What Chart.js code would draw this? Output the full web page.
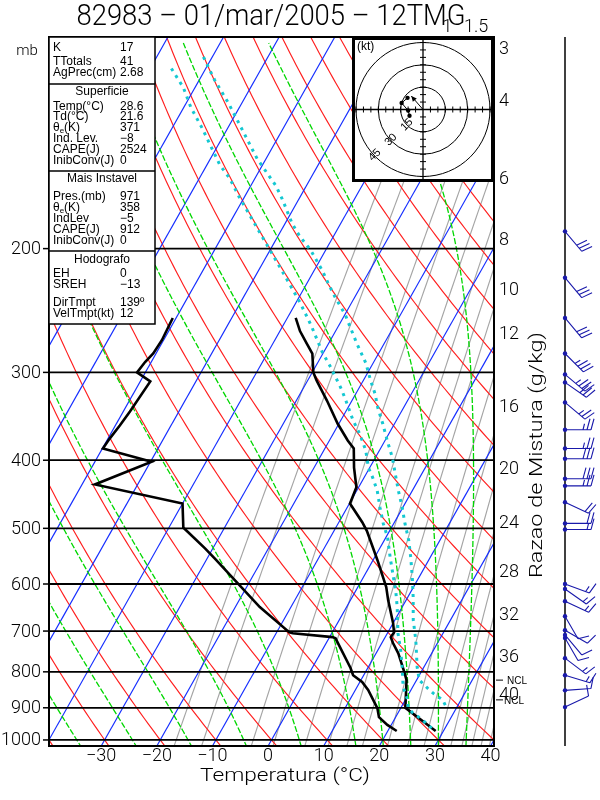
<!DOCTYPE html>
<html><head><meta charset="utf-8">
<script src="https://cdn.jsdelivr.net/npm/chart.js@4"></script>
<style>html,body{margin:0;padding:0;background:#fff}#wrap{position:relative;width:600px;height:800px}#h{position:absolute;left:352px;top:37px}</style>
</head><body><div id="wrap"><canvas id="c" width="600" height="800"></canvas><canvas id="h" width="142" height="145"></canvas></div>
<script>
// ---------------- data ----------------
const titleText = '82983 \u2013 01/mar/2005 \u2013 12TMG';
const tempPres = [971,900,822,801,753,728,714,703,682,633,606,555,504,490,461,437,410,385,375,355,329,308,300,282,273,262,251];
const tempVals = [28.6,20.8,18.2,17.0,14.0,12.0,11.0,11.1,10.0,6.8,5.1,0.8,-4.1,-5.8,-9.9,-10.4,-12.8,-14.8,-16.7,-20.2,-24.5,-28.4,-29.8,-31.9,-33.9,-36.4,-38.5];
const dewPres = [971,952,928,901,849,827,809,790,717,714,705,703,647,552,534,504,499,461,433,402,385,373,357,341,309,300,290,282,270,251];
const dewVals = [21.6,19.3,17.0,15.8,12.3,10.4,8.1,6.9,1.2,0.5,-7.0,-7.7,-15.6,-28.6,-31.4,-36.5,-37.4,-40.0,-57.7,-49.8,-59.9,-59.7,-59.2,-58.8,-58.2,-61.5,-61.1,-60.5,-60.3,-60.6];
const parcel1Pres = [962,952,937,916,898,877,841,788,745,705,647,612,587,550,515,492,467,442,423,410,387,367,351,327,315,295,281,258,239,217,169,159,152,135,126,118,110];
const parcel1Vals = [27.6,26.6,25.2,22.7,21.2,20.4,18.3,16.1,14.1,11.9,9.1,7.1,5.4,2.8,0.3,-1.9,-4.1,-6.3,-8.5,-10.2,-12.5,-15.2,-17.8,-21.4,-23.4,-27.2,-30.2,-34.8,-39.2,-45.2,-60.9,-64.5,-67.7,-74.5,-78.7,-82.1,-86.7];
const parcel2Pres = [892,877,858,844,822,788,721,675,627,587,550,520,492,467,442,418,397,375,355,337,322,308,291,273,259,248,235,224,215,201,192,184,170,163,149,136,124,115,106];
const parcel2Vals = [27.7,26.7,24.3,22.8,20.5,18.8,15.8,13.3,11.0,8.8,6.5,4.4,2.0,-0.1,-2.5,-4.8,-6.9,-9.6,-12.1,-14.6,-16.5,-18.7,-21.3,-24.9,-27.7,-30.0,-33.4,-36.2,-38.5,-42.7,-46.1,-48.8,-53.0,-55.4,-61.6,-67.0,-72.5,-77.3,-82.0];
const nclPres = [822, 877];
const windPres = [898,850,809,765,716,709,698,667,635,610,600,502,492,459,435,425,398,385,362,331,310,302,282,251,220,189];
const windDir  = [65,86,107,127,150,140,120,150,115,125,110,90,90,115,90,90,90,90,90,130,125,130,135,140,140,140];
const windSpd  = [10,10,15,13,10,10,10,10,15,15,15,15,20,20,25,30,30,25,25,25,30,35,35,30,30,30];
const hodoMinPres = 760;
const stormDir = 139, stormSpd = 12;
const isobarLevels = [1000,900,800,700,600,500,400,300,200];
const tempTicks = [-30,-20,-10,0,10,20,30,40];
const isothermValues = [-110,-100,-90,-80,-70,-60,-50,-40,-30,-20,-10,0,10,20,30,40];
const dryAdiabatValues = [-40,-30,-20,-10,0,10,20,30,40,50,60,70,80,90,100,110,120,130,140,150,160,170,180,190,200];
const moistAdiabatValues = [-35,-25,-15,-5,5,15,20,25,30,35];
const mixRatioValues = [1,1.5,3,4,6,8,10,12,16,20,24,28,32,36,40,44,48];
const mixTopLabels = [1,1.5];
const mixSideLabels = ['3','4','6','8','10','12','16','20','24','28','32','36','40'];
const mixSidePres = [104,123,159,194,229,264,336,411,490,576,663,760,861];
const hodoRings = [15,30,45];
const tableTop = [['K','17'],['TTotals','41'],['AgPrec(cm)','2.68']];
const tableSurf = [['Temp(\u00b0C)','28.6'],['Td(\u00b0C)','21.6'],['THETAE','371'],['Ind. Lev.','\u22128'],['CAPE(J)','2524'],['InibConv(J)','0']];
const tableMU = [['Pres.(mb)','971'],['THETAE','358'],['IndLev','\u22125'],['CAPE(J)','912'],['InibConv(J)','0']];
const tableHodo = [['EH','0'],['SREH','\u221213'],['DirTmpt','139\u00ba'],['VelTmpt(kt)','12']];

// ---------------- helpers ----------------
const K_SKEW = 31.0, P_TOP = 100, P_BOT = 1020;
const LIGHT = '300 18px Roboto, "Liberation Sans"';
const skewX = (T,p) => T + K_SKEW*Math.log(1000/p);
const toPts = (pres, vals) => pres.map((p,i)=>({x:skewX(vals[i],p), y:p}));
const gridP = [];
for (let lp=Math.log(1050); lp>Math.log(P_TOP); lp-=0.02) gridP.push(Math.exp(lp));
gridP.push(P_TOP*0.98);
function es(Tc){ return 6.112*Math.exp(17.67*Tc/(Tc+243.5)); }
function moistLapse(T,p){
  const Rd=287.04, cp=1005.7, Lv=2.501e6, eps=0.622;
  const e=es(T-273.15), rs=eps*e/(p-e);
  return (Rd*T + Lv*rs)/(cp + Lv*Lv*rs*eps/(Rd*T*T))/p;
}
function rk(T,p,h){ const k1=moistLapse(T,p),k2=moistLapse(T+h/2*k1,p+h/2),k3=moistLapse(T+h/2*k2,p+h/2),k4=moistLapse(T+h*k3,p+h); return T+h/6*(k1+2*k2+2*k3+k4); }
function moistLine(tw){
  const pts=[], down=[];
  let T2=tw+273.15, p2=1000;
  while(p2<1050){ T2=rk(T2,p2,2); p2+=2; if(p2%10===0) down.push({x:skewX(T2-273.15,p2),y:p2}); }
  down.reverse().forEach(d=>pts.push(d));
  let T=tw+273.15, p=1000;
  pts.push({x:skewX(T-273.15,p),y:p});
  while(p>P_TOP-2){ T=rk(T,p,-2); p-=2; if(p%6===0) pts.push({x:skewX(T-273.15,p),y:p}); }
  return pts;
}
function tdFromW(w,p){ const e=(w/1000)*p/(0.622+w/1000); const l=Math.log(e/6.112); return 243.5*l/(17.67-l); }

const datasets=[];
const base = {showLine:true,pointRadius:0,borderWidth:1.15,fill:false,tension:0};
isothermValues.forEach(t=>datasets.push({...base,order:3,borderColor:'rgb(20,45,255)',data:[{x:skewX(t,1050),y:1050},{x:skewX(t,P_TOP*0.98),y:P_TOP*0.98}]}));
dryAdiabatValues.forEach(th=>datasets.push({...base,order:3,borderColor:'rgb(255,30,30)',data:gridP.map(p=>({x:skewX((th+273.15)*Math.pow(p/1000,0.2857)-273.15,p),y:p}))}));
mixRatioValues.forEach(w=>datasets.push({...base,order:3,borderColor:'rgb(165,165,165)',data:gridP.map(p=>({x:skewX(tdFromW(w,p),p),y:p}))}));
moistAdiabatValues.forEach(tw=>datasets.push({...base,order:2,borderWidth:1.3,borderColor:'rgb(0,215,0)',borderDash:[6,2],data:moistLine(tw)}));
isobarLevels.forEach(p=>datasets.push({...base,order:1,borderColor:'#000',borderWidth:1.8,data:[{x:-45,y:p},{x:45,y:p}]}));
datasets.push({...base,order:0,borderColor:'rgb(20,200,210)',borderWidth:3,borderDash:[3,5],data:toPts(parcel1Pres,parcel1Vals)});
datasets.push({...base,order:0,borderColor:'rgb(20,200,210)',borderWidth:3,borderDash:[3,5],data:toPts(parcel2Pres,parcel2Vals)});
datasets.push({...base,order:0,borderColor:'#000',borderWidth:2.6,data:toPts(dewPres,dewVals)});
datasets.push({...base,order:0,borderColor:'#000',borderWidth:2.6,data:toPts(tempPres,tempVals)});

function fitText(ctx,text,cx,cy,width,font){
  ctx.save(); ctx.font=font; const w=ctx.measureText(text).width; ctx.translate(cx,cy); ctx.scale(width/w,1);
  ctx.textAlign='center'; ctx.textBaseline='middle'; ctx.fillText(text,0,0); ctx.restore();
}
function drawBarb(ctx,x,y,dir,spd){
  const r=dir*Math.PI/180, sx=Math.sin(r), sy=-Math.cos(r), px=sy, py=-sx;
  const L=26, tx=x+sx*L, ty=y+sy*L;
  ctx.beginPath(); ctx.moveTo(x,y); ctx.lineTo(tx,ty);
  let s=Math.round(spd/5)*5, pos=0;
  while(s>=10){ const bx=tx-sx*pos, by=ty-sy*pos; ctx.moveTo(bx,by); ctx.lineTo(bx+px*11+sx*3,by+py*11+sy*3); pos+=4; s-=10; }
  if(s>=5){ if(pos===0) pos=4; const bx=tx-sx*pos, by=ty-sy*pos; ctx.moveTo(bx,by); ctx.lineTo(bx+px*6+sx*1.5,by+py*6+sy*1.5); }
  ctx.stroke();
  ctx.beginPath(); ctx.arc(x,y,2.2,0,Math.PI*2); ctx.fill();
}
function drawTheta(ctx,x,y){
  ctx.fillText('\u03b8',x,y); const w=ctx.measureText('\u03b8').width;
  const f=ctx.font; ctx.font='8px "Liberation Sans"'; ctx.fillText('e',x+w,y+3); const we=ctx.measureText('e').width; ctx.font=f;
  ctx.fillText('(K)',x+w+we,y);
}

const decor={id:'decor',
  beforeDraw(c){const ctx=c.ctx; ctx.save(); ctx.fillStyle='#fff'; ctx.fillRect(0,0,c.width,c.height); ctx.restore();},
  afterDraw(c){
    const ctx=c.ctx, xs=c.scales.x, ys=c.scales.y, a=c.chartArea;
    ctx.save();
    ctx.strokeStyle='#000'; ctx.fillStyle='#000';
    ctx.lineWidth=2; ctx.strokeRect(a.left,a.top,a.right-a.left,a.bottom-a.top);
    // title
    fitText(ctx,titleText,271,17,389,'300 30px Roboto, "Liberation Sans"');
    ctx.font='300 15px Roboto, "Liberation Sans"'; ctx.textAlign='center'; ctx.textBaseline='middle'; ctx.fillText('mb',27,51);
    // y labels
    ctx.font=LIGHT; ctx.textAlign='right';
    isobarLevels.forEach(p=>{const y=ys.getPixelForValue(p); ctx.lineWidth=1.5; ctx.beginPath(); ctx.moveTo(a.left-6,y); ctx.lineTo(a.left,y); ctx.stroke(); ctx.fillText(String(p),a.left-8,y+1);});
    // x labels
    ctx.textAlign='center';
    tempTicks.forEach(t=>{const x=xs.getPixelForValue(skewX(t,P_BOT)); ctx.fillText(t<0?'\u2212'+(-t):String(t),x,756);});
    fitText(ctx,'Temperatura (\u00b0C)',285,776,170,LIGHT);
    // mixing ratio labels
    ctx.font=LIGHT; ctx.textAlign='left'; ctx.textBaseline='middle';
    mixSideLabels.forEach((s,i)=>{ctx.fillText(s,a.right+5,ys.getPixelForValue(mixSidePres[i])+1);});
    mixTopLabels.forEach(w=>{const x=xs.getPixelForValue(skewX(tdFromW(w,P_TOP),P_TOP)); ctx.fillText(String(w),x+5,27);});
    ctx.save(); ctx.translate(537,455); ctx.rotate(-Math.PI/2); fitText(ctx,'Razao de Mistura (g/kg)',0,0,246,LIGHT); ctx.restore();
    // NCL
    ctx.font='10px "Liberation Sans"'; ctx.lineWidth=1; ctx.textAlign='left';
    nclPres.forEach((p,i)=>{const y=ys.getPixelForValue(p); ctx.beginPath(); ctx.moveTo(a.right+2,y); ctx.lineTo(a.right+9,y); ctx.stroke(); ctx.fillText('NCL',a.right+(i===0?13:10),y+1);});
    // table
    ctx.fillStyle='#fff'; ctx.fillRect(a.left,a.top,106,287); ctx.fillStyle='#000';
    ctx.lineWidth=1.5; ctx.strokeRect(a.left,a.top,106,287);
    [84,171,251].forEach(y=>{ctx.beginPath(); ctx.moveTo(a.left,y); ctx.lineTo(a.left+106,y); ctx.stroke();});
    ctx.font='12px "Liberation Sans"'; ctx.textBaseline='middle';
    const row=(lab,val,y)=>{ctx.textAlign='left'; if(lab==='THETAE') drawTheta(ctx,53,y); else ctx.fillText(lab,53,y); ctx.fillText(val,120,y);};
    [48,62,73].forEach((y,i)=>row(tableTop[i][0],tableTop[i][1],y));
    [107,117,128,139,150,161].forEach((y,i)=>row(tableSurf[i][0],tableSurf[i][1],y));
    [197,208,219,230,241].forEach((y,i)=>row(tableMU[i][0],tableMU[i][1],y));
    [274,285,303,314].forEach((y,i)=>row(tableHodo[i][0],tableHodo[i][1],y));
    ctx.textAlign='center';
    ctx.fillText('Superficie',102,92); ctx.fillText('Mais Instavel',102,179); ctx.fillText('Hodografo',102,260);
    // wind column
    ctx.lineWidth=1.5; ctx.strokeStyle='#000'; ctx.beginPath(); ctx.moveTo(565,a.top); ctx.lineTo(565,a.bottom); ctx.stroke();
    ctx.strokeStyle='rgb(25,25,170)'; ctx.fillStyle='rgb(25,25,170)'; ctx.lineWidth=1.1;
    windPres.forEach((p,i)=>drawBarb(ctx,565,ys.getPixelForValue(p),windDir[i],windSpd[i]));
    ctx.restore();
  }};

new Chart(document.getElementById('c'),{type:'scatter',data:{datasets},
  options:{responsive:false,animation:false,events:[],devicePixelRatio:1,
    layout:{padding:{left:49,top:37,right:106,bottom:54}},
    scales:{x:{type:'linear',min:-40,max:40,display:false},y:{type:'logarithmic',min:P_TOP,max:P_BOT,reverse:true,display:false}},
    plugins:{legend:{display:false},tooltip:{enabled:false}}},
  plugins:[decor]});

// ---------------- hodograph ----------------
const hodoPts=[]; windPres.forEach((p,i)=>{ if(p>=hodoMinPres){ const r=windDir[i]*Math.PI/180; hodoPts.push({x:-windSpd[i]*Math.sin(r), y:-windSpd[i]*Math.cos(r)}); }});
const sr=stormDir*Math.PI/180, storm={x:-stormSpd*Math.sin(sr), y:-stormSpd*Math.cos(sr)};
const hodoDecor={id:'hodoDecor',
  beforeDraw(c){const ctx=c.ctx; ctx.save(); ctx.fillStyle='#fff'; ctx.fillRect(0,0,c.width,c.height); ctx.restore();},
  beforeDatasetsDraw(c){
    const ctx=c.ctx, xs=c.scales.x, ys=c.scales.y; const cx=xs.getPixelForValue(0), cy=ys.getPixelForValue(0);
    ctx.save(); ctx.strokeStyle='#000'; ctx.lineWidth=1;
    hodoRings.forEach(R=>{const r=xs.getPixelForValue(R)-cx; ctx.beginPath(); ctx.arc(cx,cy,r,0,Math.PI*2); ctx.stroke();});
    ctx.lineWidth=1.3; ctx.beginPath(); ctx.moveTo(0,cy); ctx.lineTo(c.width,cy); ctx.moveTo(cx,0); ctx.lineTo(cx,c.height); ctx.stroke();
    ctx.lineWidth=1; ctx.beginPath();
    for(let k=-45;k<=45;k+=5){ if(k===0) continue; const x=xs.getPixelForValue(k), y=ys.getPixelForValue(k); ctx.moveTo(x,cy-3); ctx.lineTo(x,cy+3); ctx.moveTo(cx-3,y); ctx.lineTo(cx+3,y);} ctx.stroke();
    ctx.fillStyle='#000'; ctx.font='12px "Liberation Sans"'; ctx.textAlign='left'; ctx.textBaseline='middle'; ctx.fillText('(kt)',5,10);
    ctx.font='11px "Liberation Sans"'; ctx.textAlign='center';
    hodoRings.forEach(R=>{const r=xs.getPixelForValue(R)-cx; ctx.save(); ctx.translate(cx-r*0.72,cy+r*0.68); ctx.rotate(-Math.PI/4); ctx.fillText(String(R),0,0); ctx.restore();});
    ctx.restore();
  },
  afterDraw(c){
    const ctx=c.ctx, xs=c.scales.x, ys=c.scales.y; const cx=xs.getPixelForValue(0), cy=ys.getPixelForValue(0);
    const tx=xs.getPixelForValue(storm.x), ty=ys.getPixelForValue(storm.y);
    ctx.save(); ctx.strokeStyle='#000'; ctx.fillStyle='#000'; ctx.lineWidth=1;
    ctx.beginPath(); ctx.moveTo(cx,cy); ctx.lineTo(tx,ty); ctx.stroke();
    const ang=Math.atan2(ty-cy,tx-cx); ctx.beginPath(); ctx.moveTo(tx,ty); ctx.lineTo(tx-6*Math.cos(ang-0.45),ty-6*Math.sin(ang-0.45)); ctx.lineTo(tx-6*Math.cos(ang+0.45),ty-6*Math.sin(ang+0.45)); ctx.closePath(); ctx.fill();
    ctx.lineWidth=3; ctx.strokeRect(1.5,1.5,c.width-3,c.height-3);
    ctx.restore();
  }};
new Chart(document.getElementById('h'),{type:'scatter',
  data:{datasets:[{data:hodoPts,showLine:true,borderColor:'#000',borderWidth:1,pointRadius:2.2,pointBackgroundColor:'#000',pointBorderWidth:0,tension:0}]},
  options:{responsive:false,animation:false,events:[],devicePixelRatio:1,layout:{padding:0},
    scales:{x:{type:'linear',min:-45,max:45,display:false},y:{type:'linear',min:-46,max:46,display:false}},
    plugins:{legend:{display:false},tooltip:{enabled:false}}},
  plugins:[hodoDecor]});
</script></body></html>
